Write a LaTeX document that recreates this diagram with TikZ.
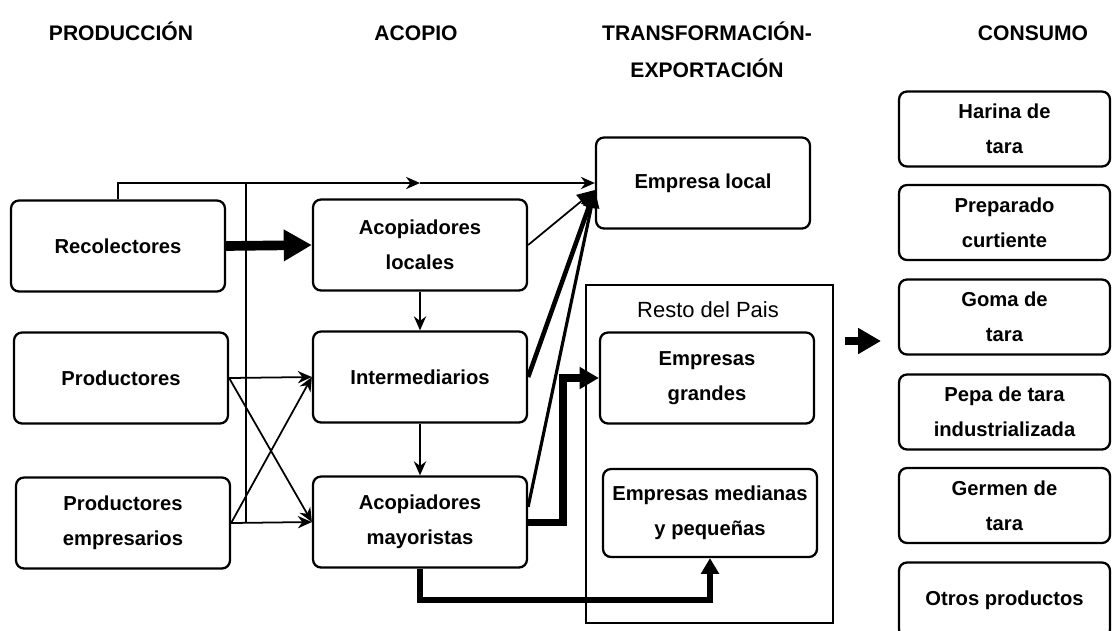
\documentclass[tikz,border=0pt]{standalone}
\usepackage{fontspec}
\setmainfont{Liberation Sans}
\usetikzlibrary{arrows.meta}

\begin{document}
\begin{tikzpicture}[x=0.02cm,y=-0.02cm]
    \tikzstyle{every node}=[font=\bfseries\fontsize{11.5}{20}\selectfont]
    \tikzstyle{caja}=[draw, rounded corners=0.16cm, line width=1.3pt, align=center,
      minimum width=4.28cm, minimum height=1.82cm]
    \tikzstyle{consumo}=[caja, minimum width=4.22cm, minimum height=1.5cm]
    \tikzstyle{titulo}=[font=\bfseries\fontsize{12}{21}\selectfont, align=center, anchor=base]
    \tikzstyle{flecha}=[line width=1pt, -{Stealth[length=8pt,width=7pt]}]
    \useasboundingbox (0,0) rectangle (1112,630);
    \clip (0,0) rectangle (1112,630);

    \node[titulo] (tprod) at (121,40) {PRODUCCIÓN};
    \node[titulo] (tacop) at (416,40) {ACOPIO};
    \node[titulo] (ttrans) at (707,77) {TRANSFORMACIÓN-\\EXPORTACIÓN};
    \node[titulo] (tcons) at (1033,40) {CONSUMO};

    \node[caja] (rec) at (118,246) {Recolectores};
    \node[caja] (pro) at (121,378) {Productores};
    \node[caja] (emp) at (123,523) {Productores\\empresarios};

    \node[caja] (acl) at (420,245) {Acopiadores\\locales};
    \node[caja] (int) at (420,377) {Intermediarios};
    \node[caja] (may) at (420,522) {Acopiadores\\mayoristas};

    \node[caja] (local) at (703,183) {Empresa local};
    \node[draw, line width=1.3pt, minimum width=4.94cm, minimum height=6.76cm] (resto) at (709.5,454) {};
    \node[font=\fontsize{12.5}{15}\selectfont] (tresto) at (708,310) {Resto del Pais};
    \node[caja] (gra) at (707,378) {Empresas\\grandes};
    \node[caja, minimum height=1.76cm] (med) at (710,513) {Empresas medianas\\y pequeñas};

    \node[consumo] (c1) at (1004.5,129) {Harina de\\tara};
    \node[consumo] (c2) at (1004.5,222.5) {Preparado\\curtiente};
    \node[consumo] (c3) at (1004.5,317) {Goma de\\tara};
    \node[consumo] (c4) at (1004.5,412) {Pepa de tara\\industrializada};
    \node[consumo] (c5) at (1004.5,505.5) {Germen de\\tara};
    \node[consumo] (c6) at (1004.5,600) {Otros productos};

    \coordinate (esq) at (rec.north |- local.west);
    \coordinate (medio) at (acl.north |- local.west);
    \coordinate (vsup) at (246,183);
    \coordinate (conv) at ([yshift=-0.14cm]local.west);
    \coordinate (codo) at (563,0);
    \coordinate (bajo) at (0,600);
    \coordinate (fa) at (845,341);
    \coordinate (fb) at (881,341);

    \draw[flecha] (rec.north) -- (esq) -- (medio);
    \draw[flecha] (medio) -- (local.west);
    \draw[line width=1pt] (vsup) -- (vsup |- emp.east);

    \draw[line width=5.5pt, -{Triangle[length=16pt,width=17pt]}] (rec.east) -- (acl.west);
    \draw[flecha] (pro.east) -- (int.west);
    \draw[flecha] (pro.east) -- (may.west);
    \draw[flecha] (emp.east) -- (may.west);
    \draw[flecha] (emp.east) -- (int.west);

    \draw[flecha] (acl.south) -- (int.north);
    \draw[flecha] (int.south) -- (may.north);

    \draw[line width=1pt, -{Triangle[length=10pt,width=9pt]}] (acl.east) -- (conv);
    \draw[line width=2.6pt, -{Triangle[length=10pt,width=9pt]}] (int.east) -- (conv);
    \draw[line width=1.8pt, -{Triangle[length=10pt,width=9pt]}] (may.8) -- (conv);

    \draw[line width=4pt, -{Triangle[length=11pt,width=12pt]}] (may.east) -| (codo |- gra.west) -- (gra.west);
    \draw[line width=3pt, -{Triangle[length=9pt,width=10pt]}] (may.south) -- (may.south |- bajo) -| (med.south);

    \draw[line width=4.5pt, -{Triangle[length=13pt,width=14pt]}] (fa) -- (fb);

\end{tikzpicture}
\end{document}
